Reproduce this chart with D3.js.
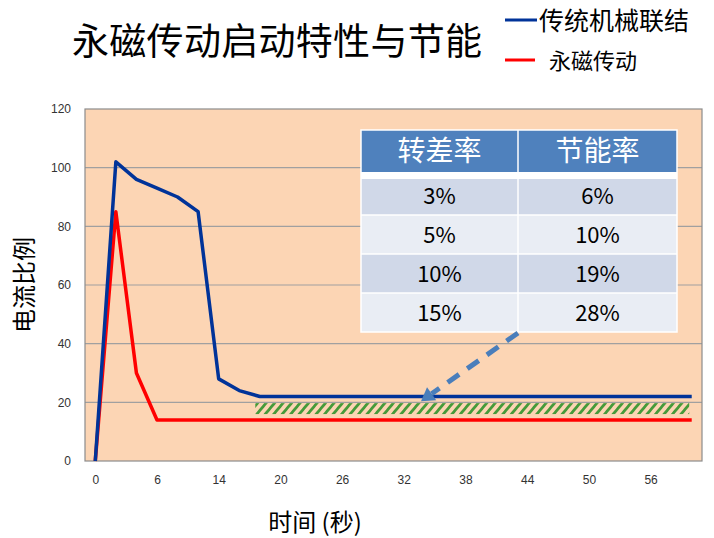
<!DOCTYPE html>
<html><head><meta charset="utf-8">
<script src="https://cdn.jsdelivr.net/npm/d3@7"></script>
<style>
html,body{margin:0;padding:0;background:#fff;}
svg{display:block;}
</style>
</head><body>
<svg id="chart" width="714" height="538"></svg>
<script>
// ---- data ----
const times = [0,2,4,6,8,11,14,16,18,20,22,24,26,28,30,32,34,36,38,40,42,44,46,48,50,52,54,56,58,60];
const tickLabels = ["0","6","14","20","26","32","38","44","50","56"];
const traditional = [0,102,96,93,90,85,28,24,22,22,22,22,22,22,22,22,22,22,22,22,22,22,22,22,22,22,22,22,22,22];
const permanent   = [0,85,30,14,14,14,14,14,14,14,14,14,14,14,14,14,14,14,14,14,14,14,14,14,14,14,14,14,14,14];
const yTicks = [0,20,40,60,80,100,120];
const savingBand = [16,20];
const tableHeader = ["转差率","节能率"];
const slipRates = ["3%","5%","10%","15%"];
const savingRates = ["6%","10%","19%","28%"];
const seriesNames = ["传统机械联结","永磁传动"];
const title = "永磁传动启动特性与节能";

// ---- layout ----
const svg = d3.select("#chart");
const L = 85, R = 702, T = 109, B = 461;
const cjk = "'Noto Sans CJK SC','Noto Sans',sans-serif";

const x = d3.scaleBand().domain(times).range([L, R]).padding(0);
const bw = x.bandwidth();
const xc = t => x(t) + bw / 2;
const y = d3.scaleLinear().domain([0,120]).range([B, T]);

// plot background
svg.append("rect").attr("x", L).attr("y", T).attr("width", R - L).attr("height", B - T)
  .attr("fill", "#fcd5b4");

// gridlines
svg.append("g").selectAll("line").data(yTicks.filter(v => v > 0 && v < 120)).join("line")
  .attr("x1", L).attr("x2", R).attr("y1", d => y(d)).attr("y2", d => y(d))
  .attr("stroke", "#a0a0a0").attr("stroke-width", 1.2);

// border
svg.append("rect").attr("x", L).attr("y", T).attr("width", R - L).attr("height", B - T)
  .attr("fill", "none").attr("stroke", "#8c8c8c").attr("stroke-width", 1.2);

// y axis
const yAxis = d3.axisLeft(y).tickValues(yTicks).tickSize(0).tickPadding(14);
const gy = svg.append("g").attr("transform", `translate(${L},0)`).call(yAxis);
gy.select(".domain").remove();
gy.selectAll("text").attr("font-family", "'Liberation Sans',Arial,sans-serif")
  .attr("font-size", 12).attr("fill", "#333");

// x axis
const labelTimes = times.filter((t, i) => i % 3 === 0);
const xAxis = d3.axisBottom(d3.scalePoint().domain(times).range([xc(times[0]), xc(times[times.length-1])]))
  .tickValues(labelTimes).tickSize(0).tickPadding(14)
  .tickFormat((d, i) => tickLabels[i]);
const gx = svg.append("g").attr("transform", `translate(0,${B})`).call(xAxis);
gx.select(".domain").remove();
gx.selectAll("text").attr("font-family", "'Liberation Sans',Arial,sans-serif")
  .attr("font-size", 12).attr("fill", "#333");

// hatched band
const defs = svg.append("defs");
const pat = defs.append("pattern").attr("id", "hatch").attr("patternUnits", "userSpaceOnUse")
  .attr("width", 6.5).attr("height", 12).attr("patternTransform", "rotate(40)");
pat.append("rect").attr("x", 0).attr("y", 0).attr("width", 2.8).attr("height", 12)
  .attr("fill", "#469a3a");
const hx0 = xc(times[8]) - bw * 0.22, hx1 = xc(times[times.length - 1]) - 2.5;
svg.append("rect").attr("x", hx0).attr("y", y(savingBand[1]) + 0.8)
  .attr("width", hx1 - hx0).attr("height", y(savingBand[0]) - y(savingBand[1]) - 0.8)
  .attr("fill", "url(#hatch)");

// lines
const line = d3.line().x((d, i) => xc(times[i])).y(d => y(d));
svg.append("path").datum(permanent).attr("d", line).attr("fill", "none")
  .attr("stroke", "#ff0000").attr("stroke-width", 3.5).attr("stroke-linejoin", "round");
svg.append("path").datum(traditional).attr("d", line).attr("fill", "none")
  .attr("stroke", "#003399").attr("stroke-width", 3.5).attr("stroke-linejoin", "round");

// table
const tX = 361, tMid = 518, tR = 677, tTop = 130, hH = 42, rowTops = [177, 215, 254, 293], tBot = 332;
const tg = svg.append("g");
tg.append("rect").attr("x", tX).attr("y", tTop).attr("width", tR - tX).attr("height", tBot - tTop).attr("fill", "#fff");
tg.append("rect").attr("x", tX).attr("y", tTop).attr("width", tR - tX).attr("height", hH).attr("fill", "#4f81bd");
tableHeader.forEach((h, j) => {
  const cx = j === 0 ? (tX + tMid) / 2 : (tMid + tR) / 2;
  tg.append("text").attr("x", cx).attr("y", tTop + hH / 2 + 10).attr("text-anchor", "middle")
    .attr("font-family", cjk).attr("font-size", 28).attr("fill", "#fff").text(h);
});
slipRates.forEach((s, i) => {
  const top = rowTops[i], bot = i < 3 ? rowTops[i + 1] : tBot;
  tg.append("rect").attr("x", tX).attr("y", top).attr("width", tR - tX).attr("height", bot - top)
    .attr("fill", i % 2 === 0 ? "#d0d8e8" : "#e9edf4");
  [s, savingRates[i]].forEach((v, j) => {
    const cx = j === 0 ? (tX + tMid) / 2 : (tMid + tR) / 2;
    tg.append("text").attr("x", cx).attr("y", (top + bot) / 2 + 8).attr("text-anchor", "middle")
      .attr("font-family", cjk).attr("font-size", 22).attr("fill", "#000").text(v);
  });
});
// cell borders
[177, 215, 254, 293].forEach((yy, i) => {
  tg.append("line").attr("x1", tX).attr("x2", tR).attr("y1", yy).attr("y2", yy)
    .attr("stroke", "#fff").attr("stroke-width", i === 0 ? 4 : 1.5);
});
tg.append("line").attr("x1", tMid).attr("x2", tMid).attr("y1", tTop).attr("y2", tBot)
  .attr("stroke", "#fff").attr("stroke-width", 1.5);
tg.append("rect").attr("x", tX).attr("y", tTop).attr("width", tR - tX).attr("height", tBot - tTop)
  .attr("fill", "none").attr("stroke", "#fff").attr("stroke-width", 1.5);

// dashed arrow
const ax0 = tMid, ay0 = tBot + 1;
const ax1 = 421, ay1 = y(20.4);
const ang = Math.atan2(ay1 - ay0, ax1 - ax0);
const headLen = 13;
const bx = ax1 - headLen * Math.cos(ang), by = ay1 - headLen * Math.sin(ang);
svg.append("line").attr("x1", ax0).attr("y1", ay0).attr("x2", bx).attr("y2", by)
  .attr("stroke", "#4a7ebb").attr("stroke-width", 5).attr("stroke-dasharray", "14,10");
const px = -Math.sin(ang), py = Math.cos(ang);
svg.append("path").attr("d", `M${ax1},${ay1} L${bx + px * 8},${by + py * 8} L${bx - px * 8},${by - py * 8} Z`)
  .attr("fill", "#4a7ebb");

// title
svg.append("text").attr("x", 72).attr("y", 55).attr("font-family", cjk).attr("font-size", 37)
  .attr("fill", "#000").attr("textLength", 410).text(title);

// legend
svg.append("line").attr("x1", 505).attr("x2", 537).attr("y1", 20).attr("y2", 20)
  .attr("stroke", "#003399").attr("stroke-width", 3);
svg.append("text").attr("x", 539).attr("y", 30).attr("font-family", cjk).attr("font-size", 25)
  .attr("fill", "#000").text(seriesNames[0]);
svg.append("line").attr("x1", 505).attr("x2", 535).attr("y1", 60).attr("y2", 60)
  .attr("stroke", "#ff0000").attr("stroke-width", 3);
svg.append("text").attr("x", 549).attr("y", 69).attr("font-family", cjk).attr("font-size", 22)
  .attr("fill", "#000").text(seriesNames[1]);

// axis titles
svg.append("text").attr("transform", "translate(33,285) rotate(-90)").attr("text-anchor", "middle")
  .attr("font-family", cjk).attr("font-size", 24).attr("fill", "#000").text("电流比例");
svg.append("text").attr("x", 315).attr("y", 531).attr("text-anchor", "middle")
  .attr("font-family", cjk).attr("font-size", 24).attr("fill", "#000").text("时间 (秒)");
</script>
</body></html>
